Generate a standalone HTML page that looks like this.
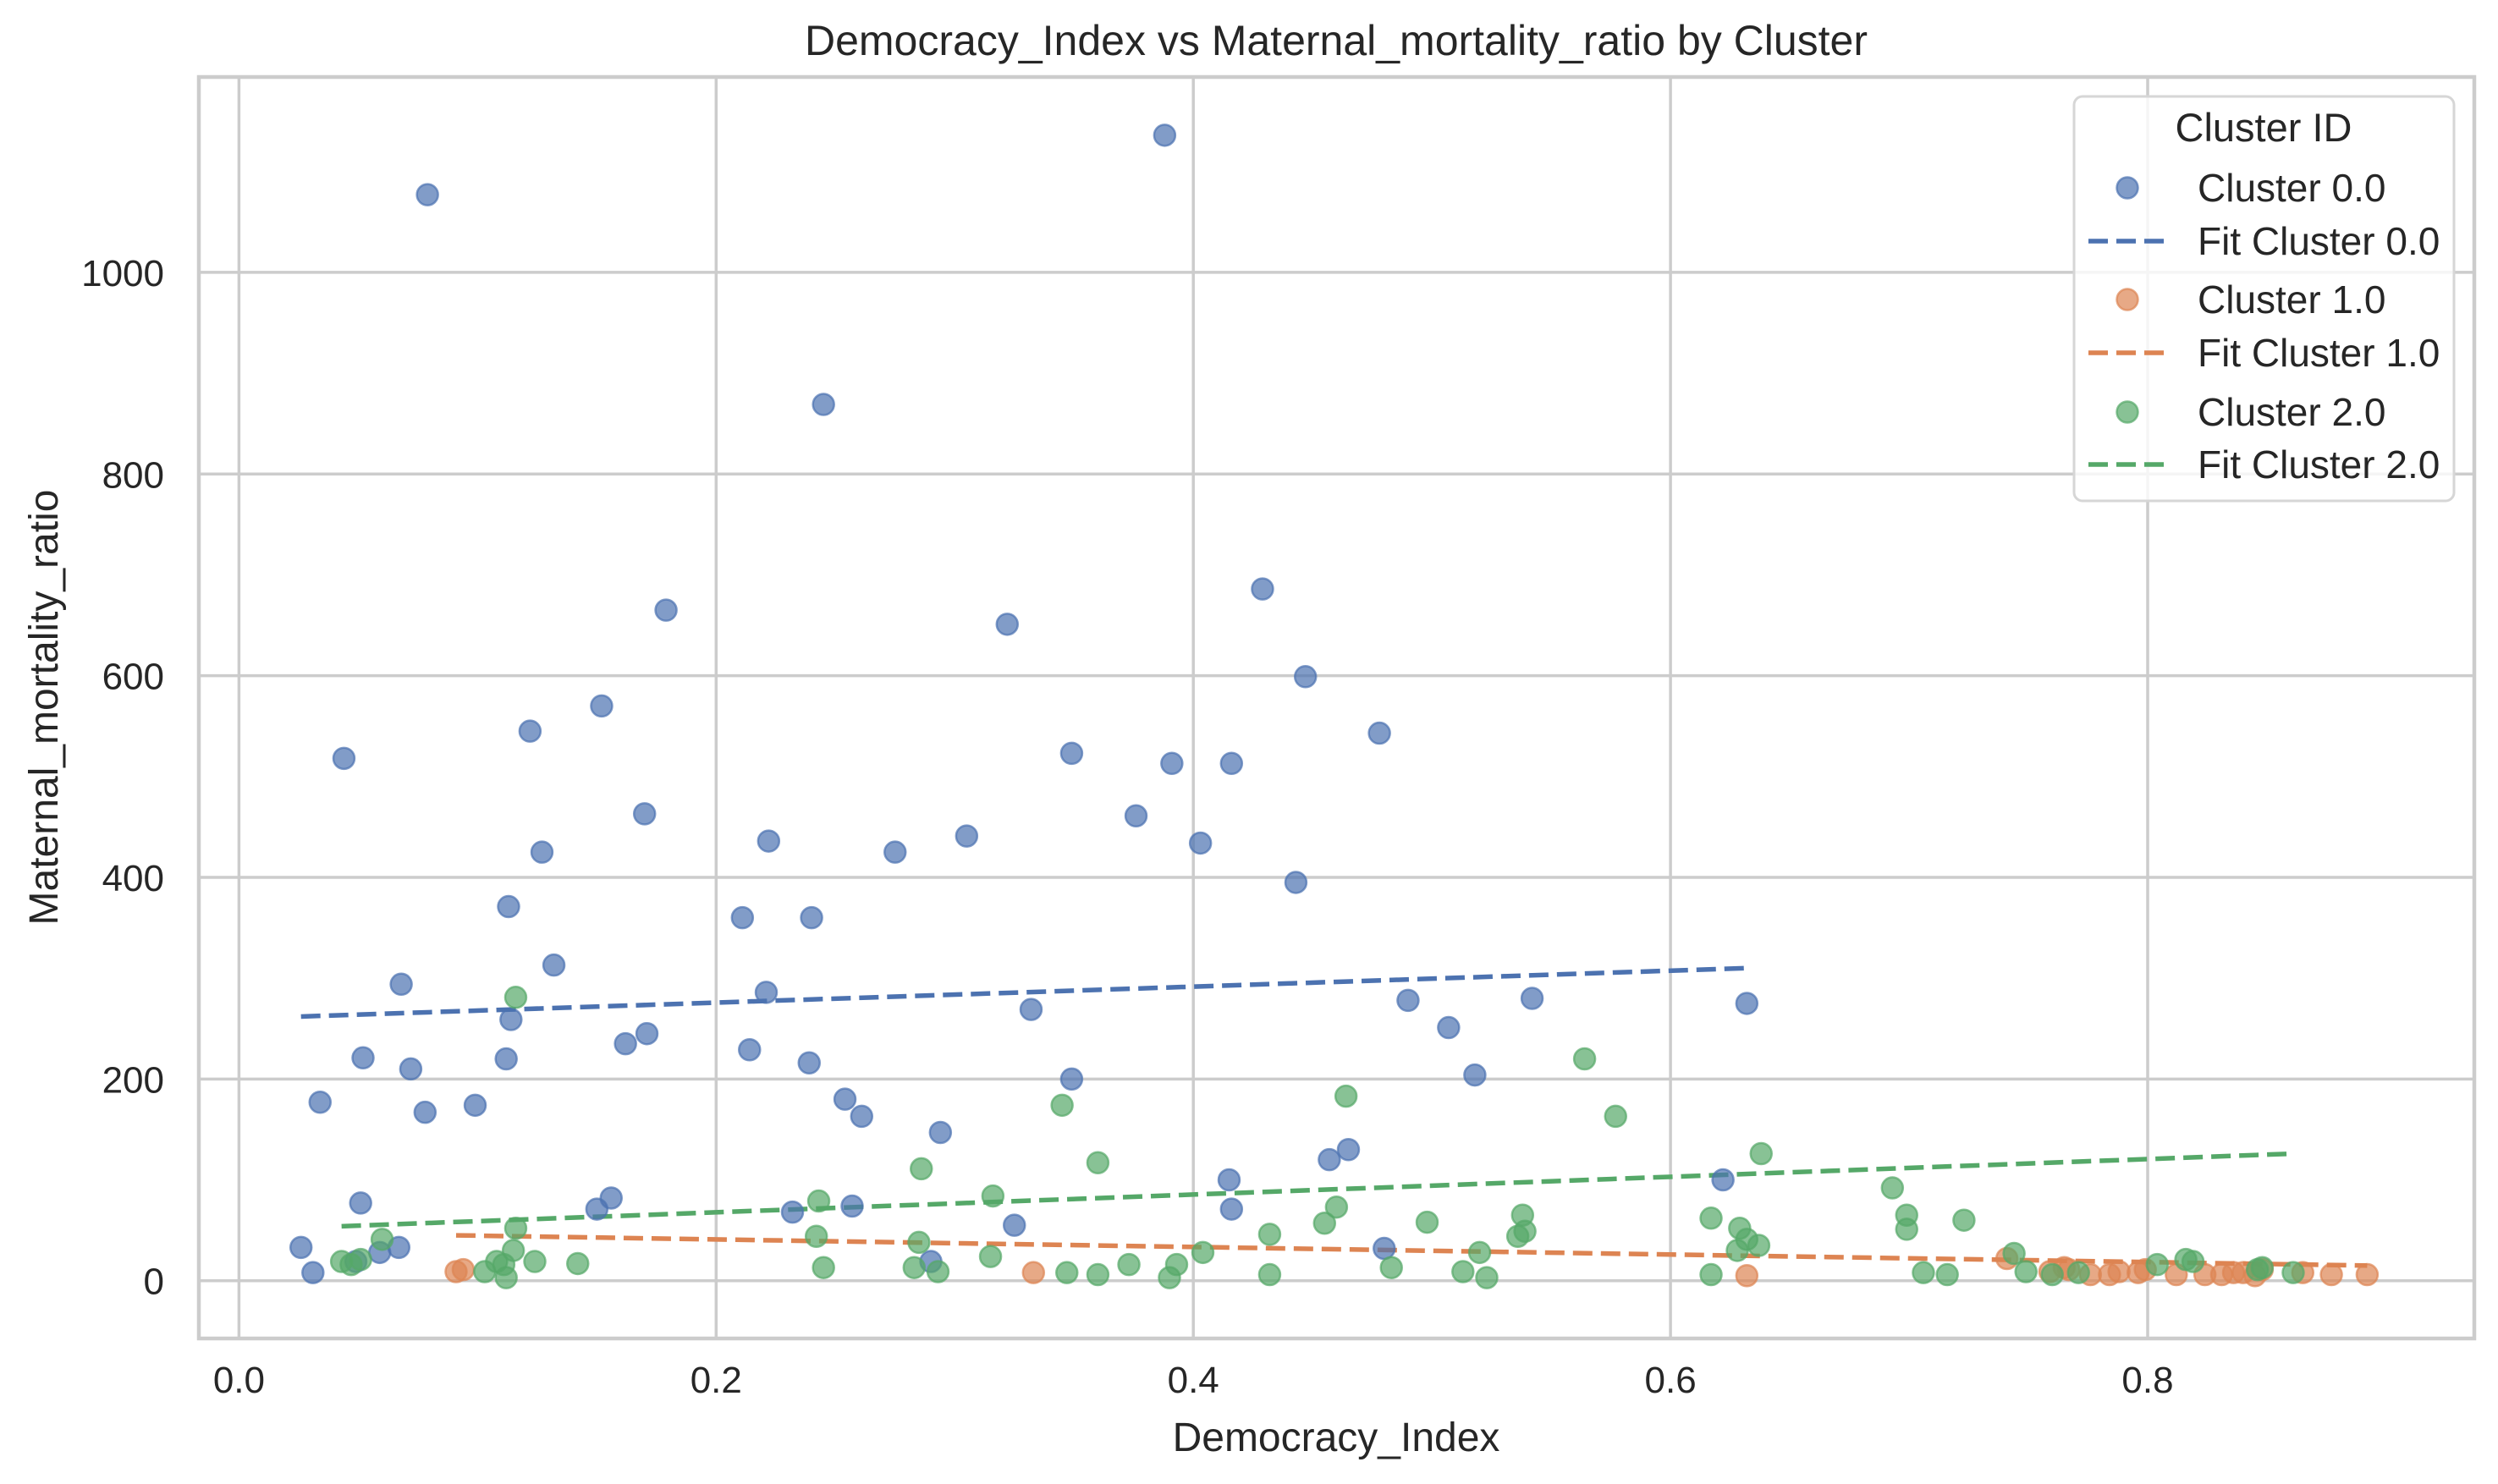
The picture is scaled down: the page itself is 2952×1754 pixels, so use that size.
<!DOCTYPE html>
<html><head><meta charset="utf-8"><style>
html,body{margin:0;padding:0;background:#fff;}
svg{display:block;font-family:"Liberation Sans","DejaVu Sans",sans-serif;}
</style></head><body>
<svg id="chart" width="2952" height="1754" viewBox="0 0 2952 1754" xmlns="http://www.w3.org/2000/svg">
<rect x="0" y="0" width="2952" height="1754" fill="#fff"/>
<g id="grid"></g>
<g id="fits"></g>
<g id="points"></g>
<rect x="235" y="91" width="2689" height="1491" fill="none" stroke="#cccccc" stroke-width="4.5"/>
<g id="ticks" font-size="44" fill="#262626"></g>
<text x="1579" y="65" font-size="50" fill="#262626" text-anchor="middle">Democracy_Index vs Maternal_mortality_ratio by Cluster</text>
<text x="1579" y="1715" font-size="48" fill="#262626" text-anchor="middle">Democracy_Index</text>
<text transform="translate(68,836) rotate(-90)" font-size="48" fill="#262626" text-anchor="middle">Maternal_mortality_ratio</text>
<g id="legend"></g>
</svg>
<script>
const xTicks=[0.0,0.2,0.4,0.6,0.8];
const xTickLabels=["0.0","0.2","0.4","0.6","0.8"];
const yTicks=[0,200,400,600,800,1000];
const yTickLabels=["0","200","400","600","800","1000"];
const seriesNames=["Cluster 0.0","Cluster 1.0","Cluster 2.0"];
const fitNames=["Fit Cluster 0.0","Fit Cluster 1.0","Fit Cluster 2.0"];
const c0x=[0.079,0.388,0.245,0.179,0.322,0.429,0.044,0.152,0.122,0.447,0.478,0.349,0.391,0.416,0.170,0.376,0.305,0.222,0.403,0.275,0.127,0.443,0.113,0.211,0.240,0.132,0.068,0.221,0.332,0.114,0.632,0.490,0.542,0.507,0.171,0.162,0.052,0.112,0.239,0.214,0.072,0.099,0.034,0.078,0.254,0.349,0.518,0.261,0.294,0.465,0.457,0.415,0.622,0.156,0.150,0.051,0.416,0.257,0.232,0.325,0.026,0.067,0.059,0.049,0.031,0.290,0.480];
const c0y=[1077,1136,869,665,651,686,518,570,545,599,543,523,513,513,463,461,441,436,434,425,425,395,371,360,360,313,294,286,269,259,275,278,280,251,245,235,221,220,216,229,210,174,177,167,180,200,204,163,147,130,120,100,100,82,71,77,71,74,68,55,33,33,28,19,8,19,32];
const c1x=[0.091,0.094,0.333,0.632,0.741,0.759,0.765,0.767,0.776,0.784,0.788,0.796,0.799,0.812,0.824,0.831,0.836,0.840,0.845,0.848,0.865,0.877,0.892];
const c1y=[9,11,8,5,22,9,13,11,6,6,9,8,11,6,6,6,8,8,5,11,8,6,6];
const c2x=[0.116,0.564,0.464,0.345,0.577,0.360,0.638,0.286,0.693,0.316,0.243,0.460,0.699,0.538,0.723,0.617,0.455,0.498,0.699,0.629,0.116,0.432,0.539,0.242,0.536,0.060,0.632,0.285,0.637,0.628,0.744,0.115,0.520,0.404,0.315,0.124,0.142,0.108,0.111,0.043,0.047,0.051,0.373,0.393,0.804,0.819,0.816,0.848,0.846,0.283,0.245,0.483,0.749,0.103,0.293,0.347,0.360,0.432,0.513,0.617,0.706,0.716,0.760,0.771,0.861,0.390,0.523,0.112];
const c2y=[281,220,183,174,163,117,126,111,92,84,79,73,65,65,60,62,57,58,51,52,52,46,49,44,44,41,41,38,35,30,27,30,28,28,24,19,17,19,16,19,16,21,16,16,16,19,21,13,11,13,13,13,9,9,9,8,6,6,9,6,8,6,6,8,8,3,3,3];
const fitX0=[0.026,0.091,0.043];
const fitX1=[0.632,0.892,0.861];
const fitY0=[262,45,54];
const fitY1=[310,15,126];
const colors=["#4c72b0","#dd8452","#55a868"];
const NS="http://www.w3.org/2000/svg";
function X(v){return 282.4+v*2819.5;}
function Y(v){return 1513.7-v*1.1918;}
function mk(tag,attrs,parent){const e=document.createElementNS(NS,tag);for(const k in attrs)e.setAttribute(k,attrs[k]);parent.appendChild(e);return e;}
const grid=document.getElementById('grid');
xTicks.forEach(t=>{const l=mk('line',{x1:X(t),x2:X(t),y1:91,y2:1582,stroke:'#cccccc','stroke-width':3.5},grid);

});
yTicks.forEach(t=>{const l=mk('line',{x1:235,x2:2924,y1:Y(t),y2:Y(t),stroke:'#cccccc','stroke-width':3.5},grid);

});
const ticks=document.getElementById('ticks');
xTicks.forEach((t,i)=>{const e=mk('text',{x:X(t),y:1646,'text-anchor':'middle'},ticks);e.textContent=xTickLabels[i];

});
yTicks.forEach((t,i)=>{const e=mk('text',{x:194,y:Y(t)+16,'text-anchor':'end'},ticks);e.textContent=yTickLabels[i];

});
const pts=document.getElementById('points');
const xs=[c0x,c1x,c2x],ys=[c0y,c1y,c2y];
for(let s=0;s<3;s++){for(let i=0;i<xs[s].length;i++){
const c=mk('circle',{cx:X(xs[s][i]),cy:Y(ys[s][i]),r:12.5,fill:colors[s],'fill-opacity':0.7,stroke:colors[s],'stroke-opacity':0.7,'stroke-width':2.5},pts);

}}
const fits=document.getElementById('fits');
for(let s=0;s<3;s++){const l=mk('line',{x1:X(fitX0[s]),y1:Y(fitY0[s]),x2:X(fitX1[s]),y2:Y(fitY1[s]),stroke:colors[s],'stroke-width':5.5,'stroke-dasharray':'23 10'},fits);

}
const lg=document.getElementById('legend');
mk('rect',{x:2451,y:114,width:449,height:478,rx:10,fill:'#fff','fill-opacity':0.8,stroke:'#d6d6d6','stroke-width':3},lg);
const lt=mk('text',{x:2675,y:167,'font-size':47,fill:'#262626','text-anchor':'middle'},lg);lt.textContent='Cluster ID';


const rowY=[222,285,354,417,487,549];
for(let s=0;s<3;s++){
const yc=rowY[2*s],yl=rowY[2*s+1];
const m=mk('circle',{cx:2514,cy:yc,r:12.5,fill:colors[s],'fill-opacity':0.7,stroke:colors[s],'stroke-opacity':0.7,'stroke-width':2.5},lg);


const t1=mk('text',{x:2597,y:yc+16,'font-size':46,fill:'#262626'},lg);t1.textContent=seriesNames[s];


const l=mk('line',{x1:2468,x2:2557,y1:yl,y2:yl,stroke:colors[s],'stroke-width':5.5,'stroke-dasharray':'23 10'},lg);


const t2=mk('text',{x:2597,y:yl+16,'font-size':46,fill:'#262626'},lg);t2.textContent=fitNames[s];

}
</script>
</body></html>
